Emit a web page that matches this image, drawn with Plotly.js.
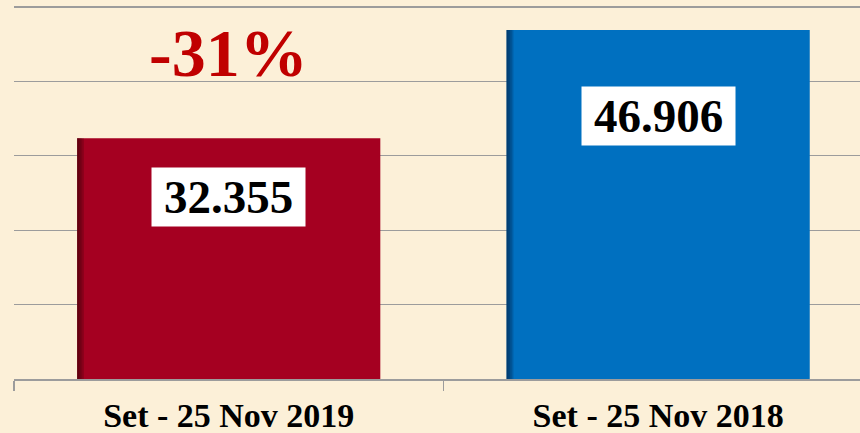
<!DOCTYPE html>
<html>
<head>
<meta charset="utf-8">
<script src="https://cdn.plot.ly/plotly-3.0.1.min.js"></script>
<style>html,body{margin:0;padding:0;background:#fcf0d8;overflow:hidden}</style>
</head>
<body>
<div id="chart" style="width:860px;height:433px"></div>
<script>
const categories = ["Set - 25 Nov 2019", "Set - 25 Nov 2018"];
const values = [32.355, 46.906];
const valueLabels = ["32.355", "46.906"];
const barColors = ["#a50021", "#0070c0"];
const shadeColors = ["rgba(60,0,10,0.22)", "rgba(0,30,70,0.22)"];
const changeLabel = "-31%";

const serif = "Liberation Serif, Times New Roman, serif";
const barWidth = 0.706;

const traces = [
  {
    type: "bar", x: categories, y: values, width: barWidth,
    marker: {color: barColors, line: {width: 0}},
    hoverinfo: "none", showlegend: false
  }
];
// left-edge shading strips (soft gradient)
[0.016, 0.012, 0.008, 0.004].forEach(function (w) {
  traces.push({
    type: "bar", x: categories, y: values, width: w,
    offset: -barWidth / 2,
    marker: {color: shadeColors, line: {width: 0}},
    hoverinfo: "none", showlegend: false
  });
});

const annotations = categories.map(function (c, i) {
  return {
    x: c, y: values[i] * 0.755, xref: "x", yref: "y",
    text: valueLabels[i], showarrow: false,
    bgcolor: "#ffffff", width: 153, height: 58, borderpad: 0,
    font: {family: serif, size: 47, color: "#000000", weight: 700}
  };
});
annotations.push({
  x: categories[0], y: 43.8, xref: "x", yref: "y",
  text: changeLabel, showarrow: false,
  font: {family: serif, size: 68, color: "#c00000", weight: 700}
});

const layout = {
  width: 860, height: 433,
  margin: {l: 14, r: 0, t: 3, b: 54},
  paper_bgcolor: "#fcf0d8", plot_bgcolor: "#fcf0d8",
  barmode: "overlay",
  xaxis: {
    type: "category", range: [-0.5, 1.47],
    showline: true, linecolor: "#9c9c9c", linewidth: 1.5,
    ticks: "outside", tickson: "boundaries", ticklen: 10, tickcolor: "#9c9c9c", tickwidth: 1.5,
    ticklabelstandoff: 6,
    tickfont: {family: serif, size: 34, color: "#000000", weight: 700},
    showgrid: false, fixedrange: true
  },
  yaxis: {
    range: [0, 50.54], tickvals: [10, 20, 30, 40, 50], showticklabels: false, ticks: "",
    showgrid: true, gridcolor: "#9c9c9c", gridwidth: 1.3,
    zeroline: false, showline: false, fixedrange: true
  },
  annotations: annotations,
  showlegend: false
};

Plotly.newPlot("chart", traces, layout, {displayModeBar: false, staticPlot: true});
</script>
</body>
</html>
